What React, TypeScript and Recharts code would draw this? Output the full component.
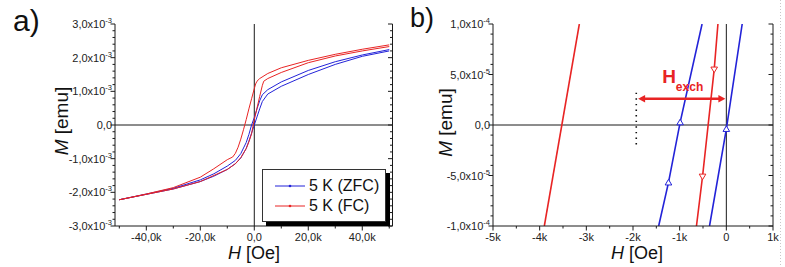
import { LineChart, Line, XAxis, YAxis, ReferenceLine, Legend } from 'recharts'

const FONT = '"Liberation Sans", Arial, Helvetica, sans-serif'
const BLUE = '#2323d8'
const RED = '#e82424'
const INK = '#1a1a1a'

// a) full loops at 5 K, H in Oe, M in units of 1e-3 emu
const zfcDownH = [50000, 40000, 30000, 20000, 10000, 5000, 3000, 2000, 1000, 0, -1000, -2000, -3000, -5000, -7000, -10000, -15000, -20000, -30000, -40000, -50000]
const zfcDownM = [2.24, 2.08, 1.88, 1.62, 1.28, 1.05, 0.9, 0.72, 0.48, 0.22, 0, -0.28, -0.52, -0.85, -1.05, -1.22, -1.45, -1.63, -1.88, -2.05, -2.22]
const zfcUpH = [-50000, -40000, -30000, -20000, -15000, -10000, -7000, -5000, -3000, -2000, -1000, 0, 1000, 2000, 3000, 5000, 10000, 20000, 30000, 40000, 50000]
const zfcUpM = [-2.22, -2.06, -1.9, -1.68, -1.52, -1.32, -1.15, -0.98, -0.7, -0.48, -0.24, 0, 0.24, 0.48, 0.7, 0.92, 1.15, 1.5, 1.8, 2.04, 2.2]
const fcDownH = [50000, 40000, 30000, 20000, 10000, 5000, 2000, 1000, 500, 0, -1000, -2000, -3000, -4000, -5000, -6000, -7000, -8000, -10000, -15000, -20000, -30000, -40000, -50000]
const fcDownM = [2.38, 2.25, 2.1, 1.92, 1.7, 1.53, 1.38, 1.3, 1.22, 1.08, 0.78, 0.48, 0.16, -0.14, -0.42, -0.66, -0.84, -0.95, -1.03, -1.3, -1.55, -1.86, -2.05, -2.22]
const fcUpH = [-50000, -40000, -30000, -20000, -10000, -7000, -5000, -3000, -2000, -1000, -400, 0, 1000, 2000, 3000, 3500, 5000, 10000, 20000, 30000, 40000, 50000]
const fcUpM = [-2.22, -2.06, -1.9, -1.68, -1.32, -1.15, -0.97, -0.7, -0.5, -0.26, 0, 0.16, 0.5, 0.85, 1.18, 1.3, 1.38, 1.56, 1.85, 2.05, 2.2, 2.33]
const legendNames = ['5 K (ZFC)', '5 K (FC)']

// b) zoom around M = 0, H in Oe, M in emu
const zfcDownZoomH = [-520, -990, -1240, -1450]
const zfcDownZoomM = [1e-4, 2.6e-6, -5.7e-5, -1e-4]
const zfcUpZoomH = [-360, 0, 340]
const zfcUpZoomM = [-1e-4, -4e-6, 1e-4]
const fcDownZoomH = [-3150, -3900]
const fcDownZoomM = [1e-4, -1e-4]
const fcUpZoomH = [-640, -510, -260, -180]
const fcUpZoomM = [-1e-4, -5.1e-5, 5.5e-5, 1e-4]

// exchange bias annotation
const exchangeField = [-1890, -20]
const exchangeLevel = 2.6e-5
const coercivityMarkH = -1930
const coercivityMarkM = [3.2e-5, -2e-5]

// axes: majors carry labels, minors are tick marks only
const aXMajor = 20000
const aXMinor = 10000
const aXRange = [-50000, 50000]
const aYMajor = 1e-3
const aYMinor = 2e-4
const aYRange = [-3e-3, 3e-3]
const bXMajor = 1000
const bXMinor = 500
const bXRange = [-5000, 1000]
const bYMajor = 5e-5
const bYMinor = 1e-5
const bYRange = [-1e-4, 1e-4]

const toRows = (h: number[], m: number[], scale = 1) => h.map((v, i) => ({ h: v, m: m[i] * scale }))

const zfcLoop = [...toRows(zfcDownH, zfcDownM, 1e-3), ...toRows(zfcUpH, zfcUpM, 1e-3)]
const fcLoop = [...toRows(fcDownH, fcDownM, 1e-3), ...toRows(fcUpH, fcUpM, 1e-3)]

const stepTicks = (range: number[], step: number) => {
  const n0 = Math.round(range[0] / step)
  const n1 = Math.round(range[1] / step)
  const out: number[] = []
  for (let i = n0; i <= n1; i++) out.push(i * step)
  return out
}

const isMajor = (v: number, major: number) => Math.abs(v / major - Math.round(v / major)) < 1e-6

const fmtKilo1 = (v: number) => (v === 0 ? '0,0' : `${(v / 1000).toFixed(1).replace('.', ',')}k`)
const fmtKilo = (v: number) => (v === 0 ? '0' : `${Math.round(v / 1000)}k`)

function sciParts(v: number): [string, string | null] {
  if (Math.abs(v) < 1e-15) return ['0,0', null]
  const e = Math.floor(Math.log10(Math.abs(v)) + 1e-9)
  const mant = v / Math.pow(10, e)
  return [`${mant.toFixed(1).replace('.', ',')}x10`, String(e)]
}

function AxisTick(props: any) {
  const { x, y, payload, side, major, fmt } = props
  const v = payload.value as number
  const big = isMajor(v, major)
  const len = big ? 4.5 : 2.5
  if (side === 'bottom') {
    return (
      <g>
        <line x1={x} y1={y} x2={x} y2={y + len} stroke={INK} />
        {big && (
          <text x={x} y={y + 15} textAnchor="middle" fontSize={11} fontFamily={FONT} fill="#222">
            {fmt(v)}
          </text>
        )}
      </g>
    )
  }
  if (side === 'left') {
    const [base, exp] = sciParts(v)
    return (
      <g>
        <line x1={x} y1={y} x2={x - len} y2={y} stroke={INK} />
        {big && (
          <text x={x - 3} y={y + 4} textAnchor="end" fontSize={11} fontFamily={FONT} fill="#222">
            {base}
            {exp && (
              <tspan fontSize={7.5} dy={-5}>
                {exp}
              </tspan>
            )}
          </text>
        )}
      </g>
    )
  }
  if (side === 'top') {
    return <line x1={x} y1={y} x2={x} y2={y + len} stroke={INK} />
  }
  return <line x1={x} y1={y} x2={x - len} y2={y} stroke={INK} />
}

function YTitle({ ax, ay }: { ax: number; ay: number }) {
  return (
    <text x={ax} y={ay} transform={`rotate(-90 ${ax} ${ay})`} textAnchor="middle" fontSize={19} fontFamily={FONT} fill="#111">
      <tspan fontStyle="italic">M</tspan> [emu]
    </text>
  )
}

function XTitle({ ax, ay }: { ax: number; ay: number }) {
  return (
    <text x={ax} y={ay} textAnchor="middle" fontSize={18} fontFamily={FONT} fill="#111">
      <tspan fontStyle="italic">H</tspan> [Oe]
    </text>
  )
}

function LoopLegend({ payload }: any) {
  const items = [...(payload ?? [])].sort((p: any, q: any) => legendNames.indexOf(p.value) - legendNames.indexOf(q.value))
  return (
    <div
      style={{
        width: 124,
        height: 53,
        boxSizing: 'border-box',
        border: '1px solid #333',
        background: '#fff',
        boxShadow: '4px 4px 0 #000',
        fontFamily: FONT,
      }}
    >
      {items.map((p: any, i: number) => (
        <div key={p.value} style={{ display: 'flex', alignItems: 'center', height: 20, marginTop: i === 0 ? 6 : 0 }}>
          <svg width={44} height={20}>
            <line x1={12} y1={10} x2={42} y2={10} stroke={p.color} strokeWidth={1} />
            <circle cx={27} cy={10} r={1.3} fill={p.color} />
          </svg>
          <span style={{ fontSize: 16, color: '#111', marginLeft: 2, lineHeight: '20px' }}>{p.value}</span>
        </div>
      ))}
    </div>
  )
}

function TriangleDot(props: any) {
  const { cx, cy, payload, up, color } = props
  if (cx == null || cy == null || Math.abs(payload.m) >= 0.99e-4) return null
  const pts = up
    ? `${cx},${cy - 3.2} ${cx - 3.3},${cy + 2.4} ${cx + 3.3},${cy + 2.4}`
    : `${cx},${cy + 3.2} ${cx - 3.3},${cy - 2.4} ${cx + 3.3},${cy - 2.4}`
  return <polygon points={pts} fill="#fff" stroke={color} strokeWidth={1} />
}

function ExchangeArrow(props: any) {
  const { x1, y1, x2 } = props
  const left = Math.min(x1, x2)
  const right = Math.max(x1, x2)
  const head = 7
  return (
    <g>
      <line x1={left + head - 1} y1={y1} x2={right - head + 1} y2={y1} stroke={RED} strokeWidth={2.6} />
      <polygon points={`${left},${y1} ${left + head},${y1 - 3.8} ${left + head},${y1 + 3.8}`} fill={RED} />
      <polygon points={`${right},${y1} ${right - head},${y1 - 3.8} ${right - head},${y1 + 3.8}`} fill={RED} />
      <text x={left + 24} y={y1 - 16} fontSize={19} fontWeight="bold" fontFamily={FONT} fill={RED}>
        H
        <tspan fontSize={12} dy={8}>
          exch
        </tspan>
      </text>
    </g>
  )
}

const axisCommon = {
  type: 'number' as const,
  allowDataOverflow: true,
  interval: 0 as const,
  tickSize: 0,
  tickMargin: 0,
  tickLine: false,
  axisLine: { stroke: INK, strokeWidth: 1 },
}

function PanelA() {
  const xTicks = stepTicks(aXRange, aXMinor)
  const yTicks = stepTicks(aYRange, aYMinor)
  const xDomain = [-51600, 51200]
  return (
    <LineChart width={400} height={267} margin={{ top: 24, right: 0, bottom: 0, left: 0 }}>
      <XAxis
        {...axisCommon}
        dataKey="h"
        domain={xDomain}
        ticks={xTicks}
        height={41}
        tick={<AxisTick side="bottom" major={aXMajor} fmt={fmtKilo1} />}
        label={<XTitle ax={254} ay={258.5} />}
      />
      <XAxis {...axisCommon} xAxisId="top" orientation="top" domain={xDomain} ticks={xTicks} height={0} tick={<AxisTick side="top" major={aXMajor} />} />
      <YAxis
        {...axisCommon}
        domain={aYRange}
        ticks={yTicks}
        width={115}
        tick={<AxisTick side="left" major={aYMajor} />}
        label={<YTitle ax={68} ay={121} />}
      />
      <YAxis {...axisCommon} yAxisId="right" orientation="right" domain={aYRange} ticks={yTicks} width={7.5} tick={<AxisTick side="right" major={aYMajor} />} />
      <ReferenceLine x={0} stroke={INK} strokeWidth={1} />
      <ReferenceLine y={0} stroke={INK} strokeWidth={1} />
      <Line data={zfcLoop} dataKey="m" name={legendNames[0]} stroke={BLUE} strokeWidth={1} dot={false} activeDot={false} isAnimationActive={false} />
      <Line data={fcLoop} dataKey="m" name={legendNames[1]} stroke={RED} strokeWidth={1} dot={false} activeDot={false} isAnimationActive={false} />
      <Legend
        layout="vertical"
        align="center"
        verticalAlign="middle"
        content={<LoopLegend />}
        wrapperStyle={{ left: 262, top: 169, width: 124, height: 53 }}
      />
    </LineChart>
  )
}

function PanelB() {
  const xTicks = stepTicks(bXRange, bXMinor)
  const yTicks = stepTicks(bYRange, bYMinor)
  return (
    <LineChart width={385} height={267} margin={{ top: 24, right: 0, bottom: 0, left: 0 }}>
      <XAxis
        {...axisCommon}
        dataKey="h"
        domain={bXRange}
        ticks={xTicks}
        height={41}
        tick={<AxisTick side="bottom" major={bXMajor} fmt={fmtKilo} />}
        label={<XTitle ax={237} ay={258.5} />}
      />
      <XAxis {...axisCommon} xAxisId="top" orientation="top" domain={bXRange} ticks={xTicks} height={0} tick={<AxisTick side="top" major={bXMajor} />} />
      <YAxis
        {...axisCommon}
        domain={bYRange}
        ticks={yTicks}
        width={93}
        tick={<AxisTick side="left" major={bYMajor} />}
        label={<YTitle ax={51.5} ay={122.5} />}
      />
      <YAxis {...axisCommon} yAxisId="right" orientation="right" domain={bYRange} ticks={yTicks} width={12} tick={<AxisTick side="right" major={bYMajor} />} />
      <ReferenceLine x={0} stroke={INK} strokeWidth={1} />
      <ReferenceLine y={0} stroke={INK} strokeWidth={1} />
      <ReferenceLine
        segment={[
          { x: coercivityMarkH, y: coercivityMarkM[0] },
          { x: coercivityMarkH, y: coercivityMarkM[1] },
        ]}
        stroke="#111"
        strokeWidth={1.6}
        strokeDasharray="1.4 4.2"
      />
      <Line data={toRows(fcDownZoomH, fcDownZoomM)} dataKey="m" stroke={RED} strokeWidth={1.6} dot={false} activeDot={false} isAnimationActive={false} />
      <Line data={toRows(fcUpZoomH, fcUpZoomM)} dataKey="m" stroke={RED} strokeWidth={1.6} dot={<TriangleDot up={false} color={RED} />} activeDot={false} isAnimationActive={false} />
      <Line data={toRows(zfcDownZoomH, zfcDownZoomM)} dataKey="m" stroke={BLUE} strokeWidth={1.6} dot={<TriangleDot up color={BLUE} />} activeDot={false} isAnimationActive={false} />
      <Line data={toRows(zfcUpZoomH, zfcUpZoomM)} dataKey="m" stroke={BLUE} strokeWidth={1.6} dot={<TriangleDot up color={BLUE} />} activeDot={false} isAnimationActive={false} />
      <ReferenceLine
        segment={[
          { x: exchangeField[0], y: exchangeLevel },
          { x: exchangeField[1], y: exchangeLevel },
        ]}
        shape={<ExchangeArrow />}
      />
    </LineChart>
  )
}

export default function App() {
  return (
    <div style={{ position: 'absolute', left: 0, top: 0, width: 785, height: 267, background: '#fff', overflow: 'hidden', fontFamily: FONT }}>
      <div style={{ position: 'absolute', left: 0, top: 0 }}>
        <PanelA />
      </div>
      <div style={{ position: 'absolute', left: 400, top: 0 }}>
        <PanelB />
      </div>
      <svg width={785} height={267} style={{ position: 'absolute', left: 0, top: 0, pointerEvents: 'none' }}>
        <text x={13} y={31} fontSize={30} fontFamily={FONT} fill="#111">
          a)
        </text>
        <text x={410} y={26.5} fontSize={27} fontFamily={FONT} fill="#111">
          b)
        </text>
        <line x1={780.5} y1={0} x2={780.5} y2={267} stroke="#c8c8c8" strokeDasharray="1 2" />
      </svg>
    </div>
  )
}
